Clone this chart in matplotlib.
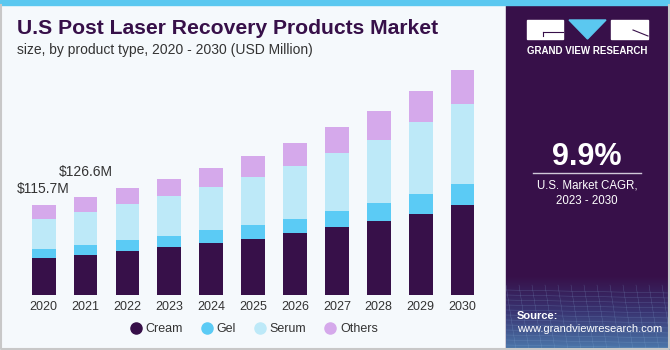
import numpy as np
import matplotlib
matplotlib.use("Agg")
import matplotlib.pyplot as plt
from matplotlib.patches import Rectangle, Polygon
from matplotlib.colors import LinearSegmentedColormap

plt.rcParams['font.family'] = ['Liberation Sans', 'DejaVu Sans']

years = ["2020", "2021", "2022", "2023", "2024", "2025", "2026", "2027", "2028", "2029", "2030"]
cream = [48.0, 52.0, 56.8, 61.9, 67.5, 72.2, 79.6, 87.3, 95.5, 104.5, 115.7]
gel = [11.2, 12.5, 13.8, 14.6, 16.4, 18.1, 18.5, 21.0, 23.2, 25.4, 28.0]
serum = [39.0, 43.1, 46.4, 51.2, 55.5, 61.5, 68.0, 74.8, 81.7, 92.9, 102.3]
others = [17.5, 19.0, 20.6, 22.3, 24.5, 27.5, 30.1, 33.1, 36.5, 40.4, 44.7]
series_names = ["Cream", "Gel", "Serum", "Others"]
colors = ["#371049", "#5bcbf5", "#bde9f8", "#d5a9eb"]
labels = {0: "$115.7M", 1: "$126.6M"}

bg_col = "#f5f9fc"
panel_col = "#371049"

fig = plt.figure(figsize=(6.7, 3.5), dpi=100)
fig.patch.set_facecolor(bg_col)

# background layer in pixel coords
bg = fig.add_axes([0, 0, 1, 1])
bg.axis("off")
bg.add_patch(Rectangle((506, 0), 164, 350, color=panel_col, zorder=1))
# gradient at bottom of panel
grad = np.linspace(0, 1, 100).reshape(-1, 1)
cmap = LinearSegmentedColormap.from_list("g", [panel_col, "#3a3a78", "#4f86b8"])
bg.imshow(grad, extent=(506, 670, 350, 275), cmap=cmap, aspect="auto", zorder=2, alpha=0.9)
for k in range(12):
    yy = 290 + k * 5
    bg.plot([506, 670], [yy, yy + 3], color="#8fb8e0", lw=0.3, alpha=0.35, zorder=3)
for k in range(14):
    xx = 506 + k * 13
    bg.plot([xx, xx + 10], [285, 350], color="#8fb8e0", lw=0.3, alpha=0.35, zorder=3)
bg.set_xlim(0, 670)
bg.set_ylim(350, 0)
bg.add_patch(Rectangle((0, 0), 670, 5, color="#5bc8f0", zorder=4))
bg.plot([0.7, 0.7, 669.3, 669.3], [5, 349.3, 349.3, 5], color="#c8c8c8", lw=1.5, zorder=5)

# logo
bg.add_patch(Rectangle((527, 20), 36, 19, color="white", zorder=4))
bg.add_patch(Polygon([(569, 20), (606, 20), (587.5, 39)], color="#5bc8f0", zorder=4))
bg.add_patch(Rectangle((611, 20), 37, 19, color="white", zorder=4))
bg.plot([543, 563], [32, 32], color=panel_col, lw=0.8, zorder=5)
bg.plot([543, 543], [32, 36], color=panel_col, lw=0.8, zorder=5)
bg.plot([633, 648], [30, 36], color=panel_col, lw=0.8, zorder=5)
bg.text(587.5, 51, "GRAND VIEW RESEARCH", color="white", fontsize=7, fontweight="bold",
        ha="center", va="center", zorder=5)

bg.text(587, 157, "9.9%", color="white", fontsize=22, fontweight="bold", ha="center", va="center", zorder=5)
bg.plot([533, 641], [173, 173], color="#d0c8d8", lw=1, zorder=5)
bg.text(587, 186, "U.S. Market CAGR,", color="white", fontsize=8.3, ha="center", va="center", zorder=5)
bg.text(587, 201, "2023 - 2030", color="white", fontsize=8.3, ha="center", va="center", zorder=5)
bg.text(517, 316, "Source:", color="white", fontsize=8, fontweight="bold", ha="left", va="center", zorder=5)
bg.text(517, 329, "www.grandviewresearch.com", color="white", fontsize=8, ha="left", va="center", zorder=5)

# titles
bg.text(17, 29, "U.S Post Laser Recovery Products Market", color="#371049", fontsize=15.2,
        fontweight="bold", ha="left", va="center", zorder=5)
bg.text(17, 50, "size, by product type, 2020 - 2030 (USD Million)", color="#333333", fontsize=10,
        ha="left", va="center", zorder=5)

# chart
ax = fig.add_axes([20.65 / 670, 55 / 350, 464.85 / 670, 232.5 / 350])
ax.set_facecolor("none")
x = np.arange(len(years))
bottom = np.zeros(len(years))
for vals, name, c in zip([cream, gel, serum, others], series_names, colors):
    ax.bar(x, vals, width=0.57, bottom=bottom, color=c, label=name)
    bottom += np.array(vals)

label_gap = {0: 21, 1: 32}
for i, t in labels.items():
    ax.text(x[i], bottom[i] + label_gap[i], t, fontsize=10, color="#333333", ha="center", va="center")

ax.set_xlim(-0.55, 10.55)
ax.set_ylim(0, 300)
ax.set_xticks(x)
ax.set_xticklabels(years, fontsize=9, color="#333333")
ax.tick_params(axis="x", length=0, pad=4)
ax.set_yticks([])
for s in ax.spines.values():
    s.set_visible(False)

fig.legend(handles=[plt.Line2D([], [], marker="o", ls="", color=c, markersize=8) for c in colors],
           labels=series_names, loc="center", bbox_to_anchor=(253 / 670, 1 - 329 / 350),
           ncol=4, frameon=False, fontsize=9, handletextpad=0.2, columnspacing=1.3,
           handlelength=1.2, labelcolor="#333333")

fig.savefig("out.png", dpi=100, facecolor=fig.get_facecolor())
